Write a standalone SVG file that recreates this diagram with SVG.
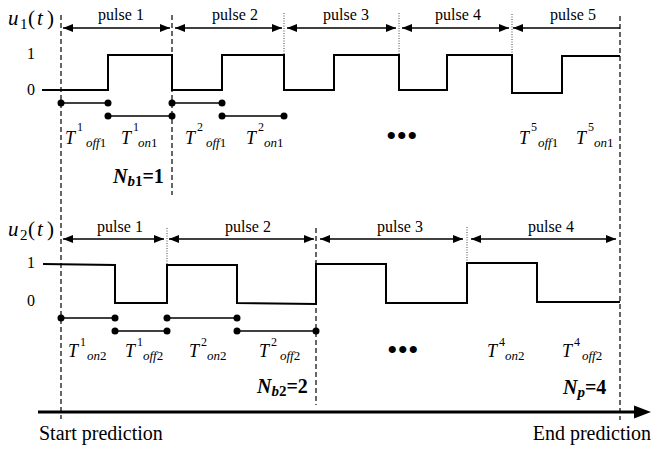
<svg xmlns="http://www.w3.org/2000/svg" width="651" height="452" viewBox="0 0 651 452">
  <style>
    .wave { fill: none; stroke: #000; stroke-width: 2; }
    .dash { stroke: #000; stroke-width: 1.2; stroke-dasharray: 5 3; fill: none; }
    .dot-line { stroke: #444; stroke-width: 1; stroke-dasharray: 1 1.5; fill: none; }
    .span { stroke: #000; stroke-width: 1.3; fill: none; marker-start: url(#head); marker-end: url(#head); }
    .span-open { stroke: #000; stroke-width: 1.3; fill: none; marker-start: url(#head); }
    .seg { stroke: #000; stroke-width: 1.3; }
    .pt { fill: #000; }
  </style>
  <defs>
    <marker id="head" markerUnits="userSpaceOnUse" markerWidth="10" markerHeight="8" viewBox="0 0 10 8" refX="10" refY="4" orient="auto-start-reverse">
      <path d="M0,0 L10,4 L0,8 Z" fill="#000"/>
    </marker>
  </defs>

  <!-- horizon boundaries -->
  <g id="guides">
    <line class="dash" x1="61" y1="15" x2="61" y2="419"/>
    <line class="dash" x1="620" y1="16" x2="620" y2="420"/>
    <line class="dash" x1="172" y1="15" x2="172" y2="195"/>
    <line class="dash" x1="316" y1="228" x2="316" y2="405"/>
    <line class="dot-line" x1="284" y1="13" x2="284" y2="55"/>
    <line class="dot-line" x1="399" y1="13" x2="399" y2="55"/>
    <line class="dot-line" x1="512" y1="14" x2="512" y2="56"/>
    <line class="dot-line" x1="167" y1="228" x2="167" y2="303"/>
    <line class="dot-line" x1="467" y1="227" x2="467" y2="263"/>
  </g>

  <!-- input u1 -->
  <g id="u1">
    <text font-family="Liberation Serif, serif" font-size="21" y="25"><tspan font-style="italic" x="8">u</tspan><tspan x="20" y="29" font-size="15">1</tspan><tspan x="28" y="25">(</tspan><tspan font-style="italic" x="37">t</tspan><tspan x="47">)</tspan></text>
    <text font-family="Liberation Serif, serif" font-size="16" x="27" y="59">1</text>
    <text font-family="Liberation Serif, serif" font-size="16" x="27" y="95">0</text>
    <path class="wave" d="M42,90 H108 V55 H172 V90 H222 V55 H284 V90 H334 V55 H399 V90 H447 V55 H512 V93 H562 V56 H620"/>
  </g>

  <g id="u1-pulses">
    <text font-family="Liberation Serif, serif" font-size="16" text-anchor="middle" x="121" y="20">pulse 1</text>
    <text font-family="Liberation Serif, serif" font-size="16" text-anchor="middle" x="235" y="20">pulse 2</text>
    <text font-family="Liberation Serif, serif" font-size="16" text-anchor="middle" x="346" y="20">pulse 3</text>
    <text font-family="Liberation Serif, serif" font-size="16" text-anchor="middle" x="458" y="20">pulse 4</text>
    <text font-family="Liberation Serif, serif" font-size="16" text-anchor="middle" x="573" y="20">pulse 5</text>
  </g>

  <g id="u1-timing">
    <text font-family="Liberation Serif, serif" font-size="18" font-style="italic" x="65" y="144">T<tspan font-size="12" font-style="normal" x="77" y="131">1</tspan><tspan font-size="13" x="86" y="147">off</tspan><tspan font-size="13" font-style="normal">1</tspan></text>
    <text font-family="Liberation Serif, serif" font-size="18" font-style="italic" x="121" y="144">T<tspan font-size="12" font-style="normal" x="133" y="131">1</tspan><tspan font-size="13" x="138" y="147">on</tspan><tspan font-size="13" font-style="normal">1</tspan></text>
    <text font-family="Liberation Serif, serif" font-size="18" font-style="italic" x="185" y="144">T<tspan font-size="12" font-style="normal" x="197" y="131">2</tspan><tspan font-size="13" x="206" y="147">off</tspan><tspan font-size="13" font-style="normal">1</tspan></text>
    <text font-family="Liberation Serif, serif" font-size="18" font-style="italic" x="246" y="144">T<tspan font-size="12" font-style="normal" x="258" y="131">2</tspan><tspan font-size="13" x="264" y="147">on</tspan><tspan font-size="13" font-style="normal">1</tspan></text>
    <text font-family="Liberation Serif, serif" font-size="30" x="386" y="146">•••</text>
    <text font-family="Liberation Serif, serif" font-size="18" font-style="italic" x="519" y="144">T<tspan font-size="12" font-style="normal" x="531" y="131">5</tspan><tspan font-size="13" x="538" y="147">off</tspan><tspan font-size="13" font-style="normal">1</tspan></text>
    <text font-family="Liberation Serif, serif" font-size="18" font-style="italic" x="576" y="144">T<tspan font-size="12" font-style="normal" x="588" y="131">5</tspan><tspan font-size="13" x="594" y="147">on</tspan><tspan font-size="13" font-style="normal">1</tspan></text>
    <text font-family="Liberation Serif, serif" font-size="20" font-weight="bold" font-style="italic" x="113" y="183">N<tspan font-size="15" y="186">b</tspan><tspan font-size="15" font-style="normal">1</tspan><tspan font-style="normal" y="183">=1</tspan></text>
  </g>

  <!-- input u2 -->
  <g id="u2">
    <text font-family="Liberation Serif, serif" font-size="21" y="236"><tspan font-style="italic" x="8">u</tspan><tspan x="20" y="240" font-size="15">2</tspan><tspan x="28" y="236">(</tspan><tspan font-style="italic" x="37">t</tspan><tspan x="47">)</tspan></text>
    <text font-family="Liberation Serif, serif" font-size="16" x="27" y="268">1</text>
    <text font-family="Liberation Serif, serif" font-size="16" x="27" y="306">0</text>
    <path class="wave" d="M43,264 L115,265 V303 H167 V265 H237 V303 L316,304 V264 H386 V303 H467 V263 H537 V302 H620"/>
  </g>

  <g id="u2-pulses">
    <text font-family="Liberation Serif, serif" font-size="16" text-anchor="middle" x="120" y="232">pulse 1</text>
    <text font-family="Liberation Serif, serif" font-size="16" text-anchor="middle" x="248" y="232">pulse 2</text>
    <text font-family="Liberation Serif, serif" font-size="16" text-anchor="middle" x="400" y="232">pulse 3</text>
    <text font-family="Liberation Serif, serif" font-size="16" text-anchor="middle" x="551" y="232">pulse 4</text>
  </g>

  <g id="u2-timing">
    <text font-family="Liberation Serif, serif" font-size="18" font-style="italic" x="68" y="357">T<tspan font-size="12" font-style="normal" x="80" y="346">1</tspan><tspan font-size="13" x="87" y="360">on</tspan><tspan font-size="13" font-style="normal">2</tspan></text>
    <text font-family="Liberation Serif, serif" font-size="18" font-style="italic" x="125" y="357">T<tspan font-size="12" font-style="normal" x="137" y="346">1</tspan><tspan font-size="13" x="143" y="360">off</tspan><tspan font-size="13" font-style="normal">2</tspan></text>
    <text font-family="Liberation Serif, serif" font-size="18" font-style="italic" x="189" y="357">T<tspan font-size="12" font-style="normal" x="201" y="346">2</tspan><tspan font-size="13" x="207" y="360">on</tspan><tspan font-size="13" font-style="normal">2</tspan></text>
    <text font-family="Liberation Serif, serif" font-size="18" font-style="italic" x="259" y="357">T<tspan font-size="12" font-style="normal" x="271" y="346">2</tspan><tspan font-size="13" x="280" y="360">off</tspan><tspan font-size="13" font-style="normal">2</tspan></text>
    <text font-family="Liberation Serif, serif" font-size="30" x="387" y="360">•••</text>
    <text font-family="Liberation Serif, serif" font-size="18" font-style="italic" x="487" y="357">T<tspan font-size="12" font-style="normal" x="499" y="346">4</tspan><tspan font-size="13" x="505" y="360">on</tspan><tspan font-size="13" font-style="normal">2</tspan></text>
    <text font-family="Liberation Serif, serif" font-size="18" font-style="italic" x="562" y="357">T<tspan font-size="12" font-style="normal" x="574" y="346">4</tspan><tspan font-size="13" x="582" y="360">off</tspan><tspan font-size="13" font-style="normal">2</tspan></text>
    <text font-family="Liberation Serif, serif" font-size="20" font-weight="bold" font-style="italic" x="257" y="393">N<tspan font-size="15" y="396">b</tspan><tspan font-size="15" font-style="normal">2</tspan><tspan font-style="normal" y="393">=2</tspan></text>
    <text font-family="Liberation Serif, serif" font-size="20" font-weight="bold" font-style="italic" x="563" y="394">N<tspan font-size="15" y="397">p</tspan><tspan font-style="normal" y="394">=4</tspan></text>
  </g>

  <!-- time axis -->
  <g id="axis">
    <line x1="38" y1="412" x2="637" y2="412" stroke="#000" stroke-width="3.2"/>
    <path d="M634,405.5 L651,412 L634,418.5 Z" fill="#000"/>
    <text font-family="Liberation Serif, serif" font-size="20" x="39" y="440">Start prediction</text>
    <text font-family="Liberation Serif, serif" font-size="20" x="651" y="440" text-anchor="end">End prediction</text>
  </g>

  <!-- span arrows and interval markers -->
  <g id="connectors">
    <line class="span" x1="63" y1="28" x2="170" y2="28"/>
    <line class="span" x1="175" y1="28" x2="282" y2="28"/>
    <line class="span" x1="287" y1="28" x2="396" y2="28"/>
    <line class="span" x1="402" y1="28" x2="509" y2="28"/>
    <line class="span-open" x1="513" y1="28" x2="620" y2="28"/>

    <line class="span" x1="63" y1="239" x2="164" y2="239"/>
    <line class="span" x1="169" y1="239" x2="314" y2="239"/>
    <line class="span" x1="320" y1="239" x2="463" y2="239"/>
    <line class="span" x1="471" y1="239" x2="616" y2="239"/>

    <line class="seg" x1="61" y1="103" x2="108" y2="103"/>
    <line class="seg" x1="108" y1="116" x2="172" y2="116"/>
    <line class="seg" x1="172" y1="103" x2="222" y2="103"/>
    <line class="seg" x1="222" y1="116" x2="284" y2="116"/>
    <circle class="pt" cx="61" cy="103" r="3.5"/>
    <circle class="pt" cx="108" cy="103" r="3.5"/>
    <circle class="pt" cx="108" cy="116" r="3.5"/>
    <circle class="pt" cx="172" cy="116" r="3.5"/>
    <circle class="pt" cx="172" cy="103" r="3.5"/>
    <circle class="pt" cx="222" cy="103" r="3.5"/>
    <circle class="pt" cx="222" cy="116" r="3.5"/>
    <circle class="pt" cx="284" cy="116" r="3.5"/>

    <line class="seg" x1="61" y1="318" x2="115" y2="318"/>
    <line class="seg" x1="115" y1="331" x2="167" y2="331"/>
    <line class="seg" x1="167" y1="318" x2="237" y2="318"/>
    <line class="seg" x1="237" y1="331" x2="316" y2="331"/>
    <circle class="pt" cx="61" cy="318" r="3.5"/>
    <circle class="pt" cx="115" cy="318" r="3.5"/>
    <circle class="pt" cx="115" cy="331" r="3.5"/>
    <circle class="pt" cx="167" cy="331" r="3.5"/>
    <circle class="pt" cx="167" cy="318" r="3.5"/>
    <circle class="pt" cx="237" cy="318" r="3.5"/>
    <circle class="pt" cx="237" cy="331" r="3.5"/>
    <circle class="pt" cx="316" cy="331" r="3.5"/>
  </g>
</svg>
